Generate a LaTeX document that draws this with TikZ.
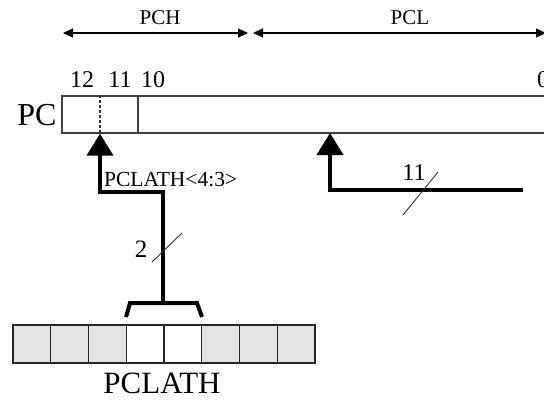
\documentclass[tikz,border=0pt]{standalone}
\usepackage{fontspec}
\setmainfont{Liberation Serif}
\usetikzlibrary{arrows.meta}
\begin{document}
\begin{tikzpicture}[x=1pt,y=-1pt,
  lbl/.style={inner sep=0pt, font=\fontsize{#1}{#1}\selectfont},
  regline/.style={draw=black!75, line width=1.3pt},
  cell/.style={draw=black!85, line width=1.3pt, minimum width=37.75pt, minimum height=38pt, inner sep=0pt},
  greycell/.style={cell, fill=black!11},
  whitecell/.style={cell, fill=white},
  bus/.style={line width=4pt, line join=miter},
  busarrow/.style={bus, -{Triangle[length=22pt,width=26pt]}},
  span/.style={line width=1.2pt, {Triangle[length=10pt,width=9pt]}-{Triangle[length=10pt,width=9pt]}},
  slash/.style={line width=0.9pt, draw=black!80}]
\useasboundingbox (0,0) rectangle (544,400);

% bit-field spans above the register
\coordinate (hl) at (63,33);
\coordinate (hr) at (248,33);
\coordinate (ll) at (253,33);
\coordinate (lr) at (546,33);
\draw[span] (hl) -- (hr);
\draw[span] (ll) -- (lr);
\node[lbl=21] (pch) at (160,18) {PCH};
\node[lbl=21] (pcl) at (410,18) {PCL};

% program counter
\node[regline, minimum width=76pt, minimum height=37pt, inner sep=0pt] (pchi) at (100,114.5) {};
\node[regline, minimum width=422pt, minimum height=37pt, inner sep=0pt] (pclo) at (349,114.5) {};
\draw[draw=black!80, line width=1.1pt, dash pattern=on 3pt off 2pt] (pchi.north) -- (pchi.south);
\node[lbl=32] (pc) at (37,115) {PC};
\node[lbl=24] (b12) at (82,80) {12};
\node[lbl=24] (b11) at (120,80) {11};
\node[lbl=24] (b10) at (153,80) {10};
\node[lbl=24] (b0) at (543,80) {0};

% PCLATH register
\foreach \i/\s in {0/greycell,1/greycell,2/greycell,3/whitecell,4/whitecell,5/greycell,6/greycell,7/greycell}
  \node[\s] (r\i) at ({13+37.75*\i+18.875},344) {};
\node[lbl=31] (pclath) at (162,383) {PCLATH};

% PCLATH<4:3> bus into bits 12:11
\coordinate (bl) at (126,317);
\coordinate (bm) at (163,303);
\coordinate (br) at (202,317);
\draw[bus] (bl) -- (130,303) -- (197,303) -- (br);
\draw[busarrow] (bm) -- (163,192) -- (100,192) -- (pchi.south);
\node[lbl=21.5, anchor=west] (sel) at (104,180) {PCLATH<4:3>};
\coordinate (s2a) at (152,262);
\coordinate (s2b) at (182,233);
\draw[slash] (s2a) -- (s2b);
\node[lbl=25] (w2) at (141,249) {2};

% 11-bit bus into the low bits
\coordinate (lin) at (523,190);
\coordinate (lpc) at (330,133);
\draw[busarrow] (lin) -- (330,190) -- (lpc);
\coordinate (s11a) at (403,215);
\coordinate (s11b) at (438,172);
\draw[slash] (s11a) -- (s11b);
\node[lbl=24] (w11) at (414,173) {11};
\end{tikzpicture}
\end{document}
